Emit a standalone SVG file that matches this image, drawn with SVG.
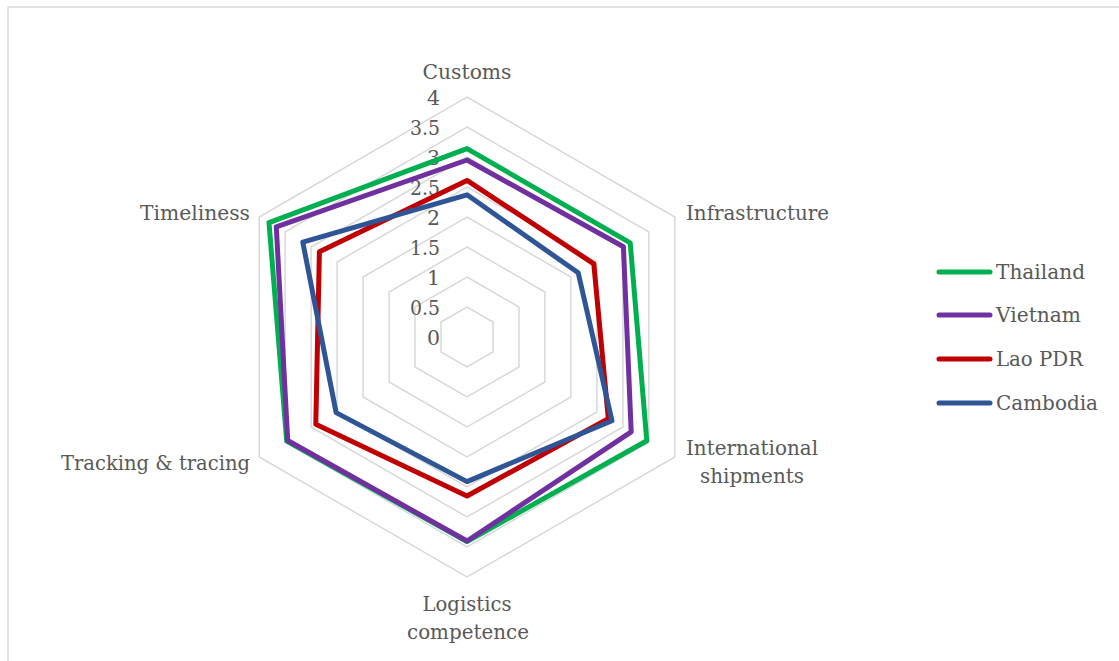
<svg xmlns="http://www.w3.org/2000/svg" width="1119" height="661" viewBox="0 0 1119 661">
<style>
.bg{fill:#fff}
.frame{fill:none;stroke:#d9d9d9;stroke-width:1.5}
.grid{fill:none;stroke:#d9d9d9;stroke-width:1.5}
.t{font-family:"DejaVu Serif","Liberation Serif",serif;font-size:20.5px;fill:#595959}
.s{fill:none;stroke-width:5;stroke-linejoin:round}
.leg{stroke-width:5;stroke-linecap:round}
.th{stroke:#00b050}
.vn{stroke:#7030a0}
.la{stroke:#c00000}
.kh{stroke:#2f5597}
</style>
<rect class="bg" x="0" y="0" width="1119" height="661"/>
<rect class="frame" x="8" y="7" width="1125" height="670"/>
<g id="grid">
<polygon class="grid" points="467,307 493,322 493,352 467,367 441,352 441,322"/>
<polygon class="grid" points="467,277 519,307 519,367 467,397 415,367 415,307"/>
<polygon class="grid" points="467,247 544.9,292 544.9,382 467,427 389.1,382 389.1,292"/>
<polygon class="grid" points="467,217 570.9,277 570.9,397 467,457 363.1,397 363.1,277"/>
<polygon class="grid" points="467,187 596.9,262 596.9,412 467,487 337.1,412 337.1,262"/>
<polygon class="grid" points="467,157 622.9,247 622.9,427 467,517 311.1,427 311.1,247"/>
<polygon class="grid" points="467,127 648.9,232 648.9,442 467,547 285.1,442 285.1,232"/>
<polygon class="grid" points="467,97 674.8,217 674.8,457 467,577 259.2,457 259.2,217"/>
</g>
<g id="ticks" class="t" text-anchor="end">
<text x="440" y="345">0</text>
<text x="440" y="315" textLength="30" lengthAdjust="spacingAndGlyphs">0.5</text>
<text x="440" y="285">1</text>
<text x="440" y="255" textLength="30" lengthAdjust="spacingAndGlyphs">1.5</text>
<text x="440" y="225">2</text>
<text x="440" y="195" textLength="30" lengthAdjust="spacingAndGlyphs">2.5</text>
<text x="440" y="165">3</text>
<text x="440" y="135" textLength="30" lengthAdjust="spacingAndGlyphs">3.5</text>
<text x="440" y="105">4</text>
</g>
<g id="axis-labels" class="t">
<text x="467" y="79" text-anchor="middle" textLength="89" lengthAdjust="spacingAndGlyphs">Customs</text>
<text x="686" y="220" textLength="143" lengthAdjust="spacingAndGlyphs">Infrastructure</text>
<text x="752" y="455" text-anchor="middle" textLength="132" lengthAdjust="spacingAndGlyphs">International</text>
<text x="752" y="483" text-anchor="middle" textLength="104" lengthAdjust="spacingAndGlyphs">shipments</text>
<text x="467" y="611" text-anchor="middle" textLength="89" lengthAdjust="spacingAndGlyphs">Logistics</text>
<text x="468" y="639" text-anchor="middle" textLength="122" lengthAdjust="spacingAndGlyphs">competence</text>
<text x="250" y="470" text-anchor="end" textLength="189" lengthAdjust="spacingAndGlyphs">Tracking &amp; tracing</text>
<text x="250" y="220" text-anchor="end" textLength="110" lengthAdjust="spacingAndGlyphs">Timeliness</text>
</g>
<g id="series">
<polygon id="thailand" class="s th" points="467,148.6 630.2,242.8 646.8,440.8 467,541.6 286.7,441.1 269,222.7"/>
<polygon id="vietnam" class="s vn" points="467,160 623.4,246.7 631.2,431.8 467,541 287.7,440.5 276.3,226.9"/>
<polygon id="lao" class="s la" points="467,180.4 593.8,263.8 608.3,418.6 467,496 315.8,424.3 319.4,251.8"/>
<polygon id="cambodia" class="s kh" points="467,194.8 578.2,272.8 612,420.7 467,481.6 336.1,412.6 302.8,242.2"/>
</g>
<g id="legend" class="t">
<line class="leg th" x1="939" y1="272" x2="990" y2="272"/>
<text x="996" y="279" textLength="89" lengthAdjust="spacingAndGlyphs">Thailand</text>
<line class="leg vn" x1="939" y1="315" x2="990" y2="315"/>
<text x="996" y="322" textLength="85" lengthAdjust="spacingAndGlyphs">Vietnam</text>
<line class="leg la" x1="939" y1="359" x2="990" y2="359"/>
<text x="996" y="366" textLength="87" lengthAdjust="spacingAndGlyphs">Lao PDR</text>
<line class="leg kh" x1="939" y1="403" x2="990" y2="403"/>
<text x="996" y="410" textLength="102" lengthAdjust="spacingAndGlyphs">Cambodia</text>
</g>
</svg>
